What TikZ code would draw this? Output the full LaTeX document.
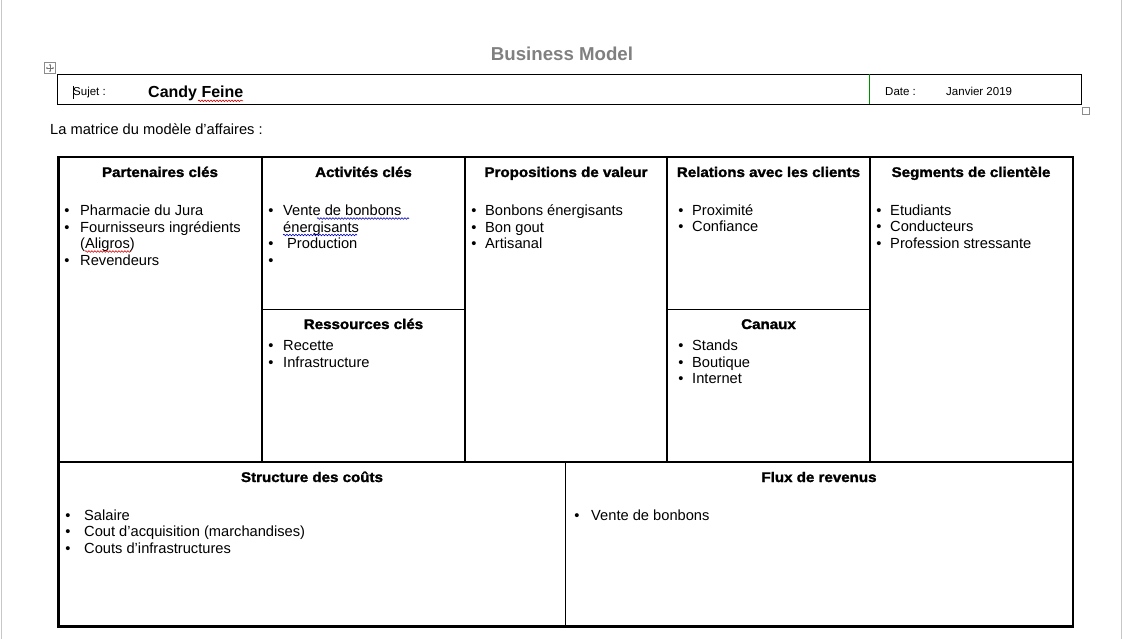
\documentclass[tikz,border=0pt]{standalone}
\usepackage{fontspec}
\setmainfont{Liberation Sans}
\newfontfamily\hdfont{Liberation Sans}[FakeStretch=1.08,BoldFeatures={FakeBold=1.6}]
\usetikzlibrary{decorations.pathmorphing,arrows.meta}
\begin{document}
\begin{tikzpicture}[x=1pt,y=-1pt,
  txt/.style={anchor=base west,inner sep=0pt,font=\fontsize{14.67}{16}\selectfont},
  hd/.style={anchor=base,inner sep=0pt,font=\hdfont\bfseries\fontsize{14}{16}\selectfont},
  bul/.style={anchor=base,inner sep=0pt,font=\fontsize{14.67}{16}\selectfont},
  outerline/.style={line width=2.2pt},
  innerline/.style={line width=1.1pt},
  pageline/.style={draw=black!22,line width=1pt},
  handle/.style={draw=black!45,line width=0.7pt},
  wavyred/.style={draw=red!85!black,line width=0.6pt,decorate,decoration={snake,amplitude=0.8pt,segment length=3pt}},
  wavyblue/.style={draw=blue!75!black,line width=0.6pt,decorate,decoration={snake,amplitude=0.8pt,segment length=3pt}}
]
\useasboundingbox (0,0) rectangle (1123,639);
\fill[white] (0,0) rectangle (1123,639);
% page edges
\draw[pageline] (1.5,0) -- (1.5,639);
\draw[pageline] (1121.5,0) -- (1121.5,639);

% title
\node[anchor=base,inner sep=0pt,text=black!50,font=\bfseries\fontsize{18.67}{20}\selectfont] (title) at (562,60.5) {Business Model};

% table handle and resize square
\draw[handle] (44.5,62.5) rectangle (55.5,73.5);
\draw[black!55,line width=0.5pt,{Stealth[length=1.5pt,width=2pt]}-{Stealth[length=1.5pt,width=2pt]}] (50,64) -- (50,72);
\draw[black!55,line width=0.5pt,{Stealth[length=1.5pt,width=2pt]}-{Stealth[length=1.5pt,width=2pt]}] (46,68) -- (54,68);
\draw[handle] (1082.5,107.5) rectangle (1089.5,114.5);

% header box
\draw[line width=1.3pt] (57.3,74.3) rectangle (1081.7,104.3);
\draw[green!55!black,line width=0.8pt] (869.5,74.3) -- (869.5,104.3);
\node[anchor=base west,inner sep=0pt,font=\fontsize{11.5}{13}\selectfont] (sujet) at (73,95.5) {Sujet :};
\draw[black,line width=0.5pt] (73.5,86) -- (73.5,99);
\node[anchor=base west,inner sep=0pt,font=\bfseries\fontsize{16}{18}\selectfont] (candy) at (148,97.7) {Candy Feine};
\draw[wavyred] (198,100.8) -- (243,100.8);
\node[anchor=base west,inner sep=0pt,font=\fontsize{11.5}{13}\selectfont] (date) at (885,95.5) {Date :};
\node[anchor=base west,inner sep=0pt,font=\fontsize{11.5}{13}\selectfont] (janvier) at (946,95.5) {Janvier 2019};

% intro line
\node[txt] (intro) at (50,135) {La matrice du modèle d’affaires :};

% table grid
\draw[outerline] (58.5,157) rectangle (1073,626.5);
\draw[innerline] (262,157) -- (262,462);
\draw[innerline] (465,157) -- (465,462);
\draw[innerline] (667,157) -- (667,462);
\draw[innerline] (870,157) -- (870,462);
\draw[innerline] (262,309.5) -- (465,309.5);
\draw[innerline] (667,309.5) -- (870,309.5);
\draw[innerline] (58.5,462) -- (1073,462);
\draw[innerline] (565.5,462) -- (565.5,626.5);

% headers
\node[hd] (h1) at (160,177) {Partenaires clés};
\node[hd] (h2) at (363.5,177) {Activités clés};
\node[hd] (h3) at (566,177) {Propositions de valeur};
\node[hd] (h4) at (768.5,177) {Relations avec les clients};
\node[hd] (h5) at (971,177) {Segments de clientèle};
\node[hd] (h6) at (363.5,329) {Ressources clés};
\node[hd] (h7) at (768.5,329) {Canaux};
\node[hd] (h8) at (312,482) {Structure des coûts};
\node[hd] (h9) at (819,482) {Flux de revenus};

% Partenaires
\node[bul] (b11) at (67,215) {\textbullet};
\node[txt] (t11) at (80,215) {Pharmacie du Jura};
\node[bul] (b12) at (67,232) {\textbullet};
\node[txt] (t12) at (80,232) {Fournisseurs ingrédients};
\node[txt] (t13) at (80,248) {(Aligros)};
\draw[wavyred] (85,251.5) -- (131,251.5);
\node[bul] (b14) at (67,265) {\textbullet};
\node[txt] (t14) at (80,265) {Revendeurs};

% Activites
\node[bul] (b21) at (271,215) {\textbullet};
\node[txt] (t21) at (283,215) {Vente de bonbons};
\draw[wavyblue] (317,218.5) -- (409,218.5);
\node[txt] (t22) at (283,232) {énergisants};
\draw[wavyblue] (283,235) -- (357,235);
\node[bul] (b23) at (271,248) {\textbullet};
\node[txt] (t23) at (287,248) {Production};
\node[bul] (b24) at (271,265) {\textbullet};

% Propositions
\node[bul] (b31) at (474,215) {\textbullet};
\node[txt] (t31) at (485,215) {Bonbons énergisants};
\node[bul] (b32) at (474,232) {\textbullet};
\node[txt] (t32) at (485,232) {Bon gout};
\node[bul] (b33) at (474,248) {\textbullet};
\node[txt] (t33) at (485,248) {Artisanal};

% Relations
\node[bul] (b41) at (681,215) {\textbullet};
\node[txt] (t41) at (692,215) {Proximité};
\node[bul] (b42) at (681,231.5) {\textbullet};
\node[txt] (t42) at (692,231.5) {Confiance};

% Segments
\node[bul] (b51) at (879,215) {\textbullet};
\node[txt] (t51) at (890,215) {Etudiants};
\node[bul] (b52) at (879,231.5) {\textbullet};
\node[txt] (t52) at (890,231.5) {Conducteurs};
\node[bul] (b53) at (879,248) {\textbullet};
\node[txt] (t53) at (890,248) {Profession stressante};

% Ressources
\node[bul] (b61) at (271,350) {\textbullet};
\node[txt] (t61) at (283,350) {Recette};
\node[bul] (b62) at (271,367) {\textbullet};
\node[txt] (t62) at (283,367) {Infrastructure};

% Canaux
\node[bul] (b71) at (681,350) {\textbullet};
\node[txt] (t71) at (692,350) {Stands};
\node[bul] (b72) at (681,367) {\textbullet};
\node[txt] (t72) at (692,367) {Boutique};
\node[bul] (b73) at (681,383) {\textbullet};
\node[txt] (t73) at (692,383) {Internet};

% Structure
\node[bul] (b81) at (68,520) {\textbullet};
\node[txt] (t81) at (84,520) {Salaire};
\node[bul] (b82) at (68,536.5) {\textbullet};
\node[txt] (t82) at (84,536.5) {Cout d’acquisition (marchandises)};
\node[bul] (b83) at (68,553) {\textbullet};
\node[txt] (t83) at (84,553) {Couts d’infrastructures};

% Flux
\node[bul] (b91) at (577,520) {\textbullet};
\node[txt] (t91) at (591,520) {Vente de bonbons};
\end{tikzpicture}
\end{document}
